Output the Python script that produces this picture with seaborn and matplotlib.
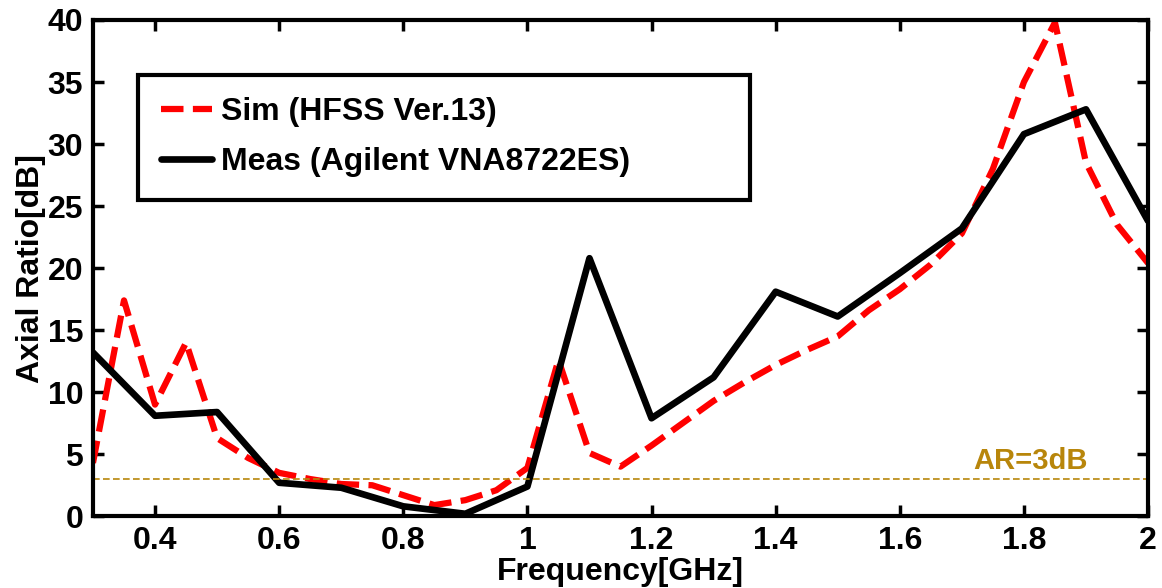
import matplotlib
matplotlib.use("Agg")
import matplotlib.pyplot as plt
import seaborn as sns
import pandas as pd

# Simulated axial ratio (HFSS), 0.05 GHz steps
sim_freq = [0.30, 0.35, 0.40, 0.45, 0.50, 0.55, 0.60, 0.65, 0.70, 0.75,
            0.80, 0.85, 0.90, 0.95, 1.00, 1.05, 1.10, 1.15, 1.20, 1.25,
            1.30, 1.35, 1.40, 1.45, 1.50, 1.55, 1.60, 1.65, 1.70, 1.75,
            1.80, 1.85, 1.90, 1.95, 2.00]
sim_ar = [4.3, 17.4, 9.0, 14.0, 6.3, 4.7, 3.5, 3.0, 2.6, 2.5,
          1.7, 0.9, 1.3, 2.1, 3.9, 12.6, 5.1, 4.0, 5.7, 7.5,
          9.3, 10.8, 12.2, 13.4, 14.5, 16.6, 18.3, 20.3, 22.8, 28.0,
          35.0, 39.8, 28.5, 23.5, 20.4]

# Measured axial ratio (Agilent VNA), 0.1 GHz steps
meas_freq = [0.3, 0.4, 0.5, 0.6, 0.7, 0.8, 0.9, 1.0, 1.1, 1.2,
             1.3, 1.4, 1.5, 1.6, 1.7, 1.8, 1.9, 2.0]
meas_ar = [13.2, 8.1, 8.4, 2.7, 2.3, 0.8, 0.2, 2.4, 20.8, 7.9,
           11.2, 18.1, 16.1, 19.6, 23.2, 30.8, 32.8, 23.8]

ar_limit = 3
x_ticks = [0.4, 0.6, 0.8, 1.0, 1.2, 1.4, 1.6, 1.8, 2.0]
x_labels = ["0.4", "0.6", "0.8", "1", "1.2", "1.4", "1.6", "1.8", "2"]
y_ticks = [0, 5, 10, 15, 20, 25, 30, 35, 40]

sns.set_style("ticks", {"axes.edgecolor": "black", "text.color": "black",
                        "xtick.color": "black", "ytick.color": "black",
                        "axes.labelcolor": "black"})
plt.rcParams['font.family'] = ['Liberation Sans', 'DejaVu Sans']
plt.rcParams['font.weight'] = 'bold'

sim_df = pd.DataFrame({"freq": sim_freq, "ar": sim_ar})
meas_df = pd.DataFrame({"freq": meas_freq, "ar": meas_ar})

fig, ax = plt.subplots(figsize=(11.62, 5.88), dpi=100)
fig.subplots_adjust(left=0.080, right=0.988, top=0.966, bottom=0.122)

sns.lineplot(data=sim_df, x="freq", y="ar", ax=ax, color="red", lw=4.5,
             label="Sim (HFSS Ver.13)")
ax.lines[-1].set_dashes([3.6, 1.5])
sns.lineplot(data=meas_df, x="freq", y="ar", ax=ax, color="black", lw=4.8,
             label="Meas (Agilent VNA8722ES)")

ax.axhline(ar_limit, color="#b8860b", lw=1.2, ls=(0, (4, 2)))
ax.text(1.81, ar_limit + 0.3, "AR=3dB", color="#b8860b", fontsize=21,
        fontweight="bold", ha="center", va="bottom")

ax.set_xlim(0.3, 2.0)
ax.set_ylim(0, 40)
ax.set_xticks(x_ticks)
ax.set_xticklabels(x_labels)
ax.set_yticks(y_ticks)
ax.tick_params(direction="in", length=8, width=2.5, labelsize=23,
               top=True, right=True, pad=7)
for s in ax.spines.values():
    s.set_linewidth(3)
ax.set_xlabel("Frequency[GHz]", fontsize=23, fontweight="bold", labelpad=1)
ax.set_ylabel("Axial Ratio[dB]", fontsize=23, fontweight="bold", labelpad=1)

leg = ax.legend(loc="upper left", bbox_to_anchor=(0.043, 0.647, 0.58, 0.242),
                mode="expand", fontsize=23, frameon=True, fancybox=False,
                handlelength=1.6, borderaxespad=0, labelspacing=0.62,
                handletextpad=0.3, borderpad=0.7)
leg.get_frame().set_edgecolor("black")
leg.get_frame().set_linewidth(3)
leg.get_frame().set_alpha(1)

plt.savefig("out.png", dpi=100)
